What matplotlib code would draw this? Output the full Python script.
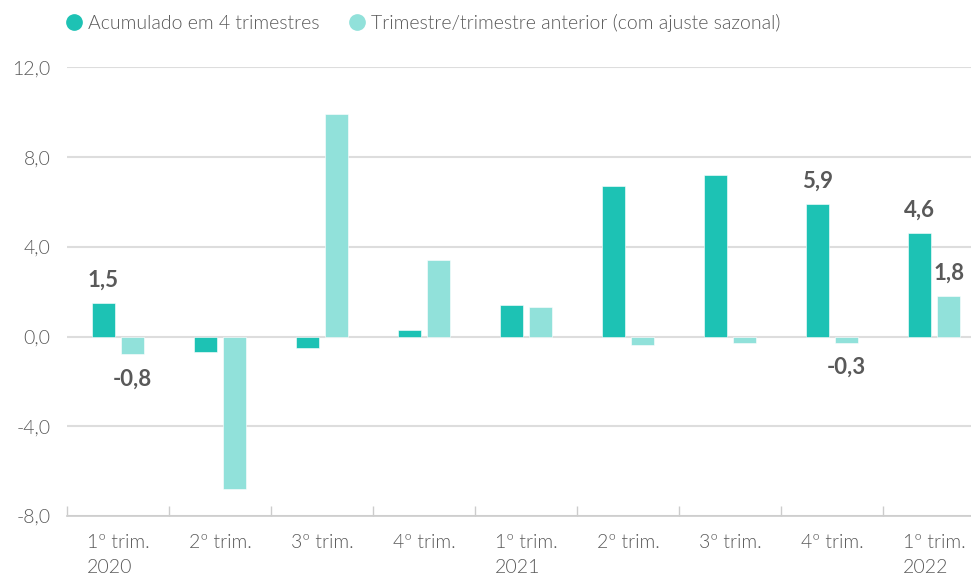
import matplotlib
matplotlib.use("Agg")
import matplotlib.pyplot as plt
from matplotlib.lines import Line2D
import numpy as np

plt.rcParams['font.family'] = ['Lato', 'DejaVu Sans']
plt.rcParams['font.weight'] = 300

# Quarterly GDP variation (%)
quarters = ["1º trim.\n2020", "2º trim.", "3º trim.", "4º trim.",
            "1º trim.\n2021", "2º trim.", "3º trim.", "4º trim.",
            "1º trim.\n2022"]
acum_4tri = [1.5, -0.7, -0.5, 0.3, 1.4, 6.7, 7.2, 5.9, 4.6]
tri_anterior = [-0.8, -6.8, 9.9, 3.4, 1.3, -0.4, -0.3, -0.3, 1.8]

# bars that carry a value label: (series index, category index)
labelled = [(0, 0), (1, 0), (0, 7), (1, 7), (0, 8), (1, 8)]

dark = "#1dc2b4"
light = "#91e1da"
text_col = "#595959"
grid_col = "#dddddd"

fig = plt.figure(figsize=(9.71, 5.81), dpi=100)
ax = fig.add_axes([0.069, 0.112, 0.9454, 0.772])

x = np.arange(len(quarters))
w = 0.225
off = 0.145
series = [acum_4tri, tri_anterior]
ax.bar(x - off, acum_4tri, w, color=dark, edgecolor="white", linewidth=0.4, zorder=3)
ax.bar(x + off, tri_anterior, w, color=light, edgecolor="white", linewidth=0.4, zorder=3)

for s, i in labelled:
    v = series[s][i]
    xpos = x[i] + (-off if s == 0 else off)
    txt = ("%.1f" % v).replace(".", ",")
    if v >= 0:
        ax.annotate(txt, (xpos, v), xytext=(0, 9), textcoords="offset points",
                    ha="center", va="bottom", fontsize=16, fontweight="bold", color=text_col)
    else:
        ax.annotate(txt, (xpos, v), xytext=(0, -10), textcoords="offset points",
                    ha="center", va="top", fontsize=16, fontweight="bold", color=text_col)

ax.set_xlim(-0.5, len(quarters) - 0.5)
ax.set_ylim(-8, 12)
yt = np.arange(-8, 13, 4)
ax.set_yticks(yt)
ax.set_yticklabels([("%.1f" % v).replace(".", ",") for v in yt])
ax.yaxis.grid(True, color=grid_col, linewidth=1.5, zorder=0)
ax.set_axisbelow(True)

ax.set_xticks(x)
ax.set_xticklabels(quarters, multialignment="left", linespacing=1.55)
ax.set_xticks(np.arange(-0.5, len(quarters), 1.0), minor=True)
ax.tick_params(axis="x", which="major", length=0, pad=13, labelsize=14, labelcolor=text_col)
ax.tick_params(axis="x", which="minor", direction="in", length=7, color="#cccccc", width=1)
ax.tick_params(axis="y", length=0, pad=12, labelsize=14, labelcolor=text_col)

for side in ["top", "right", "left"]:
    ax.spines[side].set_visible(False)
ax.spines["bottom"].set_color("#cccccc")
ax.spines["bottom"].set_linewidth(1.2)

handles = [
    Line2D([], [], marker="o", linestyle="none", markersize=11, color=dark),
    Line2D([], [], marker="o", linestyle="none", markersize=11, color=light),
]
fig.legend(handles, ["Acumulado em 4 trimestres", "Trimestre/trimestre anterior (com ajuste sazonal)"],
           loc="upper left", bbox_to_anchor=(0.048, 1.007), ncol=2, frameon=False,
           fontsize=14, labelcolor=text_col, handletextpad=0.25, columnspacing=1.4,
           handlelength=1.0)

fig.savefig("out.png", dpi=100)
